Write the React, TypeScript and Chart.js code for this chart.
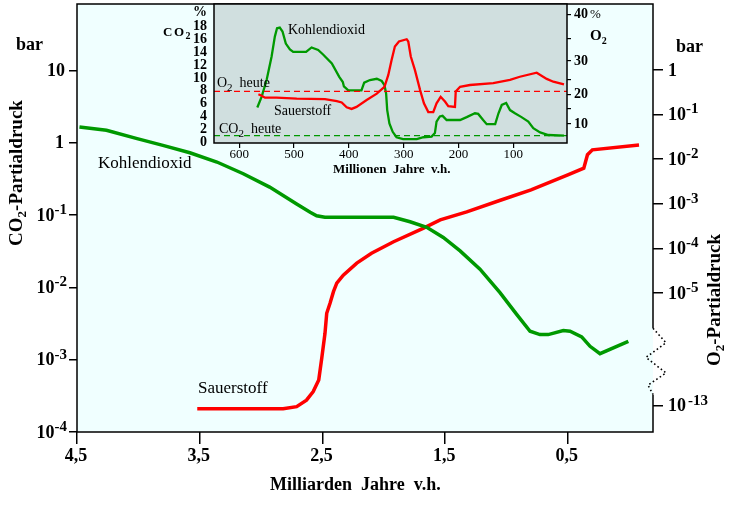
import React, { useEffect, useRef } from 'react';
import { Chart, registerables, LinearScale } from 'chart.js';

// ---------------- data: main chart (Milliarden Jahre v.h.) ----------------
const mainXTicks = [4.5, 3.5, 2.5, 1.5, 0.5];
const mainXTickLabels = ['4,5', '3,5', '2,5', '1,5', '0,5'];
const co2TickExponents = [-4, -3, -2, -1, 0, 1];
const o2TickExponents = [0, -1, -2, -3, -4, -5, -13];

const co2AgeGa = [4.48, 4.26, 4.01, 3.8, 3.58, 3.36, 3.145, 2.93, 2.71, 2.6, 2.547, 2.48, 2.11, 1.92, 1.786, 1.65, 1.515, 1.378, 1.216, 1.053, 0.917, 0.808, 0.727, 0.66, 0.537, 0.482, 0.387, 0.319, 0.238, 0.007];
const co2Bar = [1.652, 1.483, 1.138, 0.918, 0.726, 0.54, 0.372, 0.243, 0.142, 0.109, 0.0977, 0.0929, 0.0929, 0.0929, 0.0807, 0.0675, 0.049, 0.0319, 0.0178, 0.00843, 0.00422, 0.00247, 0.00222, 0.00222, 0.00253, 0.00247, 0.00207, 0.00153, 0.00121, 0.00179];

const o2AgeGa = [3.52, 2.82, 2.71, 2.63, 2.575, 2.53, 2.505, 2.479, 2.465, 2.438, 2.41, 2.383, 2.33, 2.22, 2.1, 1.92, 1.68, 1.54, 1.324, 1.05, 0.8, 0.5, 0.37, 0.34, 0.3, -0.08];
const o2Log10Bar = [-13.07, -13.07, -13.02, -12.6, -12.0, -11.18, -9.6, -7.86, -6.44, -5.73, -4.97, -4.78, -4.6, -4.33, -4.11, -3.85, -3.55, -3.36, -3.18, -2.92, -2.69, -2.35, -2.2, -1.9, -1.79, -1.68];

// ---------------- data: inset (Millionen Jahre v.h.) ----------------
const insetXTicks = [600, 500, 400, 300, 200, 100];
const insetCo2Ticks = [0, 2, 4, 6, 8, 10, 12, 14, 16, 18];
const insetO2Ticks = [10, 15, 20, 25, 30, 35, 40];
const insetO2TickLabels = ['10', '', '20', '', '30', '', '40'];

const insetCo2AgeMa = [567, 559, 550, 541, 535, 531, 526, 521, 515, 507.5, 501.5, 478, 468, 456, 447, 431, 417.5, 411, 409, 401, 377, 372, 361.5, 349, 340, 335, 332, 330, 326, 320, 313, 301, 276, 264, 249, 243, 240, 234, 229, 221.6, 197, 185, 170, 164, 155, 148.5, 133, 127, 121, 113, 106, 97, 85, 72.6, 63.5, 51, 36, 7.5];
const insetCo2Pct = [5.3, 7.0, 9.6, 13.25, 16.4, 17.7, 17.8, 17.2, 15.3, 14.4, 14.0, 14.0, 14.7, 14.3, 13.6, 12.2, 10.1, 9.3, 8.6, 8.0, 8.0, 9.2, 9.6, 9.8, 9.45, 8.8, 7.5, 4.9, 2.8, 1.5, 0.65, 0.35, 0.35, 0.65, 0.75, 1.3, 3.1, 3.9, 4.0, 3.35, 3.35, 3.8, 4.4, 4.3, 3.35, 2.7, 2.7, 4.4, 5.7, 6.0, 4.9, 4.4, 3.8, 3.1, 2.06, 1.4, 1.0, 0.9];

const insetO2AgeMa = [565, 559, 553, 532, 495, 443.6, 422, 413, 404, 395, 386, 367.5, 349, 335, 328, 322, 316, 308.6, 294.5, 291.6, 287, 279.4, 270, 263, 255, 246, 240, 232.5, 224.6, 218.6, 206.4, 205, 197, 179, 136.5, 106, 88, 57.3, 39, 27, 7.5];
const insetO2Pct = [20.0, 19.5, 18.8, 18.8, 18.45, 18.3, 17.6, 17.1, 15.35, 14.8, 15.5, 17.95, 20.2, 22.5, 26.2, 30.2, 33.2, 34.3, 34.8, 34.3, 31.0, 27.5, 21.4, 16.8, 13.8, 13.8, 16.8, 19.1, 17.4, 15.8, 15.5, 20.9, 22.5, 23.1, 23.7, 24.8, 25.7, 26.8, 25.1, 24.2, 23.3];

const co2TodayPct = 0.9;
const o2TodayPct = 21;

// ---------------- styling / layout ----------------
const SERIF = '"Liberation Serif", "Times New Roman", Times, serif';
const font = (size: number, bold = false) => `${bold ? 'bold ' : ''}${size}px ${SERIF}`;
const GREEN = '#009900';
const RED = '#ff0000';
const PLOT_BG = '#f0ffff';
const INSET_BG = '#d0dfdf';
const INSET_LEFT = 140;
const INSET_X_MIN = 2;
const INSET_X_MAX = 646;

// hand-drawn, non-uniform axes: value -> fraction of plot height (from bottom)
const PIECEWISE_KNOTS: Record<string, number[][]> = {
  yO2: [[-13.59, 0], [-13, 0.0614], [-5, 0.3248], [0, 0.8458], [1.48, 1]],
  yO2inset: [[3.95, 0], [10, 0.1367], [15, 0.2496], [20, 0.3504], [25, 0.4583], [30, 0.5899], [35, 0.7532], [40, 0.9259], [42.1, 1]],
};

class PiecewiseScale extends LinearScale {
  static id = 'piecewise';
  static defaults = {};
  getPixelForValue(value: number) {
    if (value === null || value === undefined || isNaN(value)) return NaN;
    const k = PIECEWISE_KNOTS[(this as any).id];
    let i = 0;
    while (i < k.length - 2 && value > k[i + 1][0]) i++;
    const [v0, f0] = k[i];
    const [v1, f1] = k[i + 1];
    const fr = f0 + ((value - v0) * (f1 - f0)) / (v1 - v0);
    const self = this as any;
    return self.bottom - fr * (self.bottom - self.top);
  }
  getValueForPixel(pixel: number) {
    const self = this as any;
    const k = PIECEWISE_KNOTS[self.id];
    const fr = (self.bottom - pixel) / (self.bottom - self.top);
    let i = 0;
    while (i < k.length - 2 && fr > k[i + 1][1]) i++;
    const [v0, f0] = k[i];
    const [v1, f1] = k[i + 1];
    return v0 + ((fr - f0) * (v1 - v0)) / (f1 - f0);
  }
}

Chart.register(...registerables, PiecewiseScale as any);

function supLabel(ctx: CanvasRenderingContext2D, base: string, sup: string, x: number, y: number, align: 'left' | 'right', gap = 0) {
  ctx.font = font(18, true);
  const wb = ctx.measureText(base).width;
  ctx.font = font(15, true);
  const ws = sup ? ctx.measureText(sup).width : 0;
  const total = wb + (sup ? gap + ws : 0);
  const x0 = align === 'left' ? x : x - total;
  ctx.textAlign = 'left';
  ctx.textBaseline = 'middle';
  ctx.font = font(18, true);
  ctx.fillText(base, x0, y);
  if (sup) {
    ctx.font = font(15, true);
    ctx.fillText(sup, x0 + wb + gap, y - 6);
  }
}

type Run = { t: string; f: string; dy?: number };
function drawRuns(ctx: CanvasRenderingContext2D, runs: Run[], x: number, y: number, align: 'left' | 'center') {
  ctx.textBaseline = 'alphabetic';
  ctx.textAlign = 'left';
  const widths = runs.map((r) => {
    ctx.font = r.f;
    return ctx.measureText(r.t).width;
  });
  const total = widths.reduce((s, w) => s + w, 0);
  let cx = align === 'left' ? x : x - total / 2;
  runs.forEach((r, i) => {
    ctx.font = r.f;
    ctx.fillText(r.t, cx, y + (r.dy || 0));
    cx += widths[i];
  });
}

const mainDecor = {
  id: 'mainDecor',
  beforeDraw(chart: any) {
    const { ctx, chartArea: a } = chart;
    ctx.save();
    ctx.fillStyle = '#ffffff';
    ctx.fillRect(0, 0, chart.width, chart.height);
    ctx.fillStyle = PLOT_BG;
    ctx.fillRect(a.left, a.top, a.right - a.left, a.bottom - a.top);
    ctx.restore();
  },
  afterDraw(chart: any) {
    const { ctx, chartArea: a, scales } = chart;
    const yL = scales.y;
    const yR = scales.yO2;
    const xS = scales.x;
    ctx.save();
    // frame with axis break on the right
    const gapTop = yR.getPixelForValue(-7.5);
    const gapBottom = yR.getPixelForValue(-12.2);
    ctx.strokeStyle = '#000';
    ctx.lineWidth = 1.5;
    ctx.beginPath();
    ctx.moveTo(a.right, gapTop);
    ctx.lineTo(a.right, a.top);
    ctx.lineTo(a.left, a.top);
    ctx.lineTo(a.left, a.bottom);
    ctx.lineTo(a.right, a.bottom);
    ctx.lineTo(a.right, gapBottom);
    ctx.stroke();
    ctx.setLineDash([1.6, 2.6]);
    ctx.lineWidth = 1.6;
    const zz = [[0, 0], [13, 0.22], [-7, 0.44], [13, 0.675], [-5, 0.86], [0, 1]];
    ctx.beginPath();
    zz.forEach(([dx, t], i) => {
      const px = a.right + dx;
      const py = gapTop + t * (gapBottom - gapTop);
      if (i === 0) ctx.moveTo(px, py);
      else ctx.lineTo(px, py);
    });
    ctx.stroke();
    ctx.setLineDash([]);

    ctx.fillStyle = '#000';
    // left axis labels
    co2TickExponents.forEach((e) => {
      const py = yL.getPixelForValue(Math.pow(10, e)) + 1;
      if (e === 0) supLabel(ctx, '1', '', 64, py, 'right');
      else if (e === 1) supLabel(ctx, '10', '', 65, py, 'right');
      else supLabel(ctx, '10', String(e), 67, py, 'right');
    });
    // right axis labels
    o2TickExponents.forEach((e) => {
      const py = yR.getPixelForValue(e) + 1;
      if (e === 0) supLabel(ctx, '1', '', 668, py, 'left');
      else supLabel(ctx, '10', String(e), 668, py, 'left', e < -9 ? 2 : 0);
    });
    // x labels
    ctx.font = font(18, true);
    ctx.textAlign = 'center';
    ctx.textBaseline = 'middle';
    mainXTicks.forEach((v, i) => {
      ctx.fillText(mainXTickLabels[i], xS.getPixelForValue(v) - 1, 456);
    });
    // unit labels
    ctx.textAlign = 'left';
    ctx.fillText('bar', 16, 45);
    ctx.fillText('bar', 676, 47);
    // x title
    ctx.textBaseline = 'middle';
    ctx.fillText('Milliarden  Jahre  v.h.', 270, 485);
    // rotated axis titles
    ctx.save();
    ctx.translate(22, 173);
    ctx.rotate(-Math.PI / 2);
    drawRuns(ctx, [
      { t: 'CO', f: font(19, true) },
      { t: '2', f: font(13, true), dy: 4 },
      { t: '-Partialdruck', f: font(19, true) },
    ], 0, 0, 'center');
    ctx.restore();
    ctx.save();
    ctx.translate(720, 300);
    ctx.rotate(-Math.PI / 2);
    drawRuns(ctx, [
      { t: 'O', f: font(19, true) },
      { t: '2', f: font(13, true), dy: 4 },
      { t: '-Partialdruck', f: font(19, true) },
    ], 0, 0, 'center');
    ctx.restore();
    // series labels
    ctx.font = font(17);
    ctx.textBaseline = 'alphabetic';
    ctx.fillText('Kohlendioxid', 98, 168);
    ctx.fillText('Sauerstoff', 198, 393);
    ctx.restore();
  },
};

const insetDecor = {
  id: 'insetDecor',
  beforeDraw(chart: any) {
    const { ctx, chartArea: a } = chart;
    ctx.save();
    ctx.fillStyle = INSET_BG;
    ctx.fillRect(a.left, a.top, a.right - a.left, a.bottom - a.top);
    ctx.restore();
  },
  afterDraw(chart: any) {
    const { ctx, chartArea: a, scales } = chart;
    const X = (px: number) => px - INSET_LEFT;
    ctx.save();
    ctx.strokeStyle = '#000';
    ctx.lineWidth = 1.5;
    ctx.strokeRect(a.left, a.top, a.right - a.left, a.bottom - a.top);
    ctx.fillStyle = '#000';
    // left labels (CO2 %)
    ctx.font = font(14, true);
    ctx.textAlign = 'right';
    ctx.textBaseline = 'middle';
    insetCo2Ticks.forEach((v) => {
      ctx.fillText(String(v), a.left - 7, scales.y.getPixelForValue(v) + 0.5);
    });
    ctx.fillText('%', a.left - 7, 12.5);
    // right labels (O2 %)
    ctx.textAlign = 'left';
    insetO2Ticks.forEach((v, i) => {
      if (insetO2TickLabels[i]) ctx.fillText(insetO2TickLabels[i], a.right + 7, scales.yO2inset.getPixelForValue(v) + 0.5);
    });
    ctx.font = font(13);
    ctx.fillText('%', X(590), 14.7);
    drawRuns(ctx, [
      { t: 'O', f: font(15, true) },
      { t: '2', f: font(10, true), dy: 4 },
    ], X(590), 40, 'left');
    ctx.save();
    (ctx as any).letterSpacing = '1.5px';
    drawRuns(ctx, [
      { t: 'CO', f: font(13, true) },
      { t: '2', f: font(10, true), dy: 3 },
    ], X(163), 36, 'left');
    ctx.restore();
    // x labels
    ctx.font = font(13);
    ctx.textAlign = 'center';
    ctx.textBaseline = 'middle';
    insetXTicks.forEach((v) => {
      ctx.fillText(String(v), scales.x.getPixelForValue(v), 155);
    });
    ctx.font = font(13, true);
    ctx.textAlign = 'left';
    ctx.fillText('Millionen  Jahre  v.h.', X(333), 170);
    // annotations
    ctx.font = font(14);
    ctx.textBaseline = 'alphabetic';
    ctx.fillText('Kohlendioxid', X(288), 34);
    ctx.fillText('Sauerstoff', X(274), 115);
    drawRuns(ctx, [
      { t: 'O', f: font(14) },
      { t: '2', f: font(11), dy: 4 },
      { t: '  heute', f: font(14) },
    ], X(217), 87, 'left');
    drawRuns(ctx, [
      { t: 'CO', f: font(14) },
      { t: '2', f: font(11), dy: 4 },
      { t: '  heute', f: font(14) },
    ], X(219), 133, 'left');
    ctx.restore();
  },
};

const zeroPad = (s: any) => {
  s.paddingTop = 0;
  s.paddingBottom = 0;
  s.paddingLeft = 0;
  s.paddingRight = 0;
};

function mainConfig(): any {
  const tickGrid = (len: number) => ({ display: true, drawOnChartArea: false, drawTicks: true, tickLength: len, color: '#000', lineWidth: 1.5 });
  return {
    type: 'line',
    data: {
      datasets: [
        {
          label: 'Kohlendioxid',
          data: co2AgeGa.map((x, i) => ({ x, y: co2Bar[i] })),
          borderColor: GREEN,
          borderWidth: 3.5,
          pointRadius: 0,
          tension: 0,
          fill: false,
          xAxisID: 'x',
          yAxisID: 'y',
        },
        {
          label: 'Sauerstoff',
          data: o2AgeGa.map((x, i) => ({ x, y: o2Log10Bar[i] })),
          borderColor: RED,
          borderWidth: 3.5,
          pointRadius: 0,
          tension: 0,
          fill: false,
          xAxisID: 'x',
          yAxisID: 'yO2',
        },
      ],
    },
    options: {
      responsive: false,
      devicePixelRatio: 1,
      animation: false,
      events: [],
      layout: { padding: { top: 4, left: 0, right: 0, bottom: 0 } },
      plugins: { legend: { display: false }, tooltip: { enabled: false }, title: { display: false } },
      scales: {
        x: {
          type: 'linear',
          position: 'bottom',
          reverse: true,
          min: -0.194,
          max: 4.5,
          grid: tickGrid(12),
          border: { display: false },
          ticks: { display: false },
          afterBuildTicks: (s: any) => { s.ticks = mainXTicks.map((value) => ({ value })); },
          afterFit: (s: any) => { s.height = 75; zeroPad(s); },
        },
        y: {
          type: 'logarithmic',
          position: 'left',
          min: 1e-4,
          max: 82.6,
          grid: tickGrid(8),
          border: { display: false },
          ticks: { display: false },
          afterBuildTicks: (s: any) => { s.ticks = co2TickExponents.map((e) => ({ value: Math.pow(10, e) })); },
          afterFit: (s: any) => { s.width = 77; zeroPad(s); },
        },
        yO2: {
          type: 'piecewise',
          axis: 'y',
          position: 'right',
          min: -13.59,
          max: 1.48,
          grid: tickGrid(10),
          border: { display: false },
          ticks: { display: false },
          afterBuildTicks: (s: any) => { s.ticks = o2TickExponents.map((value) => ({ value })); },
          afterFit: (s: any) => { s.width = 82; zeroPad(s); },
        },
      },
    },
    plugins: [mainDecor],
  };
}

function insetConfig(): any {
  return {
    type: 'line',
    data: {
      datasets: [
        {
          label: 'O2 heute',
          data: [{ x: INSET_X_MAX, y: o2TodayPct }, { x: INSET_X_MIN, y: o2TodayPct }],
          borderColor: RED,
          borderWidth: 1.3,
          borderDash: [6, 4],
          pointRadius: 0,
          fill: false,
          yAxisID: 'yO2inset',
        },
        {
          label: 'CO2 heute',
          data: [{ x: INSET_X_MAX, y: co2TodayPct }, { x: INSET_X_MIN, y: co2TodayPct }],
          borderColor: GREEN,
          borderWidth: 1.3,
          borderDash: [6, 4],
          pointRadius: 0,
          fill: false,
          yAxisID: 'y',
        },
        {
          label: 'Sauerstoff',
          data: insetO2AgeMa.map((x, i) => ({ x, y: insetO2Pct[i] })),
          borderColor: RED,
          borderWidth: 2.3,
          pointRadius: 0,
          tension: 0,
          fill: false,
          yAxisID: 'yO2inset',
        },
        {
          label: 'Kohlendioxid',
          data: insetCo2AgeMa.map((x, i) => ({ x, y: insetCo2Pct[i] })),
          borderColor: GREEN,
          borderWidth: 2.3,
          pointRadius: 0,
          tension: 0,
          fill: false,
          yAxisID: 'y',
        },
      ],
    },
    options: {
      responsive: false,
      devicePixelRatio: 1,
      animation: false,
      events: [],
      layout: { padding: { top: 4, left: 0, right: 0, bottom: 0 } },
      plugins: { legend: { display: false }, tooltip: { enabled: false }, title: { display: false } },
      scales: {
        x: {
          type: 'linear',
          position: 'bottom',
          reverse: true,
          min: INSET_X_MIN,
          max: INSET_X_MAX,
          grid: { display: true, drawOnChartArea: false, drawTicks: true, tickLength: 5, color: '#000', lineWidth: 1.2 },
          border: { display: false },
          ticks: { display: false },
          afterBuildTicks: (s: any) => { s.ticks = insetXTicks.map((value) => ({ value })); },
          afterFit: (s: any) => { s.height = 42; zeroPad(s); },
        },
        y: {
          type: 'linear',
          position: 'left',
          min: -0.25,
          max: 21.5,
          grid: { display: false },
          border: { display: false },
          ticks: { display: false },
          afterBuildTicks: (s: any) => { s.ticks = insetCo2Ticks.map((value) => ({ value })); },
          afterFit: (s: any) => { s.width = 74; zeroPad(s); },
        },
        yO2inset: {
          type: 'piecewise',
          axis: 'y',
          position: 'right',
          min: 3.95,
          max: 42.1,
          grid: { display: true, drawOnChartArea: false, drawTicks: true, tickLength: 4, color: '#000', lineWidth: 1.2 },
          border: { display: false },
          ticks: { display: false },
          afterBuildTicks: (s: any) => { s.ticks = insetO2Ticks.map((value) => ({ value })); },
          afterFit: (s: any) => { s.width = 53; zeroPad(s); },
        },
      },
    },
    plugins: [insetDecor],
  };
}

export default function App() {
  const mainRef = useRef<HTMLCanvasElement>(null);
  const insetRef = useRef<HTMLCanvasElement>(null);
  useEffect(() => {
    document.body.style.margin = '0';
    const main = new Chart(mainRef.current as HTMLCanvasElement, mainConfig());
    const inset = new Chart(insetRef.current as HTMLCanvasElement, insetConfig());
    return () => {
      main.destroy();
      inset.destroy();
    };
  }, []);
  return (
    <div style={{ position: 'fixed', left: 0, top: 0, width: 735, height: 507, background: '#ffffff' }}>
      <canvas ref={mainRef} width={735} height={507} style={{ position: 'absolute', left: 0, top: 0, width: 735, height: 507 }} />
      <canvas ref={insetRef} width={480} height={185} style={{ position: 'absolute', left: INSET_LEFT, top: 0, width: 480, height: 185 }} />
    </div>
  );
}
